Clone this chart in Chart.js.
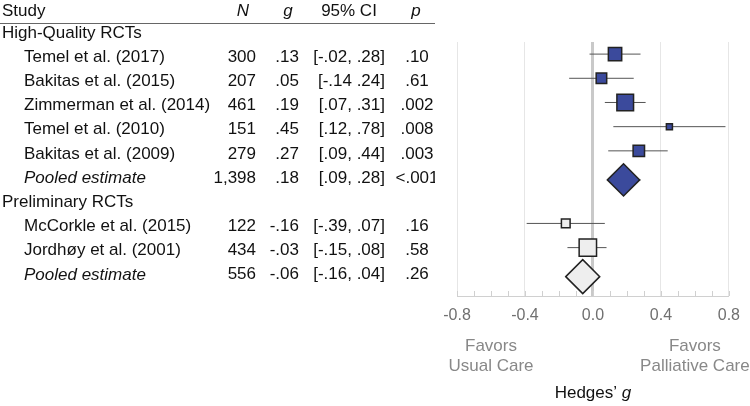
<!DOCTYPE html>
<html>
<head>
<meta charset="utf-8">
<script src="https://cdn.jsdelivr.net/npm/chart.js@4/dist/chart.umd.min.js"></script>
<style>
  body { margin: 0; background: #fff; }
  #wrap { width: 750px; height: 406px; }
</style>
</head>
<body>
<div id="wrap"><canvas id="forest"></canvas></div>
<script>
// datos del forest plot
const groups = ['High-Quality RCTs', 'Preliminary RCTs'];
const studies = ['Temel et al. (2017)', 'Bakitas et al. (2015)', 'Zimmerman et al. (2014)', 'Temel et al. (2010)',
  'Bakitas et al. (2009)', 'Pooled estimate', 'McCorkle et al. (2015)', 'Jordhøy et al. (2001)', 'Pooled estimate'];
const groupOf = [0, 0, 0, 0, 0, 0, 1, 1, 1];
const pooled = [false, false, false, false, false, true, false, false, true];
const nLabels = ['300', '207', '461', '151', '279', '1,398', '122', '434', '556'];
const gValues = [0.13, 0.05, 0.19, 0.45, 0.27, 0.18, -0.16, -0.03, -0.06];
const ciLow = [-0.02, -0.14, 0.07, 0.12, 0.09, 0.09, -0.39, -0.15, -0.16];
const ciHigh = [0.28, 0.24, 0.31, 0.78, 0.44, 0.28, 0.07, 0.08, 0.04];
const ciLabels = ['[-.02, .28]', '[-.14 .24]', '[.07, .31]', '[.12, .78]', '[.09, .44]', '[.09, .28]',
  '[-.39, .07]', '[-.15, .08]', '[-.16, .04]'];
const pLabels = ['.10', '.61', '.002', '.008', '.003', '<.001', '.16', '.58', '.26'];
const xMin = -0.8, xMax = 0.8;
const favorsLeft = ['Favors', 'Usual Care'];
const favorsRight = ['Favors', 'Palliative Care'];

const FONT = "'Liberation Sans', Arial, sans-serif";
const fills = ['#3b4a9c', '#eeeeee'];
const POOLED_SHIFT = 0.2; // el rombo queda un poco más abajo que su fila
const TEXT_DY = 3;

// filas: cabecera de grupo y luego sus estudios
const rowOf = [];
const groupRow = [];
let r = 0;
groups.forEach((g, gi) => {
  groupRow.push(r++);
  studies.forEach((s, i) => { if (groupOf[i] === gi) rowOf[i] = r++; });
});
const markY = i => rowOf[i] + (pooled[i] ? POOLED_SHIFT : 0);

const fmtG = v => (v < 0 ? '-' : '') + Math.abs(v).toFixed(2).slice(1);

const datasets = [{
  order: 0,
  data: studies.map((s, i) => ({ x: gValues[i], y: markY(i) })),
  pointStyle: c => pooled[c.dataIndex] ? 'rectRot' : 'rect',
  pointRadius: c => {
    const i = c.dataIndex;
    if (pooled[i]) {
      const xs = c.chart.scales.x;
      return (xs.getPixelForValue(ciHigh[i]) - xs.getPixelForValue(ciLow[i])) / 2;
    }
    const side = 4 / (ciHigh[i] - ciLow[i]);
    return side / (2 * Math.SQRT1_2);
  },
  backgroundColor: c => fills[groupOf[c.dataIndex]],
  borderColor: '#222',
  borderWidth: 1.5
}];
studies.forEach((s, i) => {
  datasets.push({
    order: 1,
    data: [{ x: ciLow[i], y: markY(i) }, { x: ciHigh[i], y: markY(i) }],
    showLine: true,
    borderColor: '#555',
    borderWidth: 1,
    pointRadius: 0
  });
});

const tablaPlugin = {
  id: 'tabla',
  afterDraw(chart) {
    const ctx = chart.ctx;
    const ys = chart.scales.y;
    const xs = chart.scales.x;
    const area = chart.chartArea;

    // marcas menores del eje
    ctx.save();
    ctx.strokeStyle = '#d0d0d0';
    ctx.lineWidth = 1;
    xs.ticks.forEach(t => {
      const px = Math.round(xs.getPixelForValue(t.value)) + 0.5;
      ctx.beginPath();
      ctx.moveTo(px, area.bottom);
      ctx.lineTo(px, area.bottom - 5);
      ctx.stroke();
    });
    ctx.restore();

    // tabla a la izquierda
    ctx.save();
    ctx.beginPath();
    ctx.rect(0, 0, 435, chart.height);
    ctx.clip();
    ctx.fillStyle = '#111';
    ctx.textBaseline = 'middle';
    const norm = '17px ' + FONT, ital = 'italic 17px ' + FONT;
    const headY = 11;
    ctx.font = norm; ctx.textAlign = 'left'; ctx.fillText('Study', 2, headY);
    ctx.textAlign = 'center';
    ctx.font = ital; ctx.fillText('N', 243, headY);
    ctx.fillText('g', 288, headY);
    ctx.font = norm; ctx.fillText('95% CI', 349, headY);
    ctx.font = ital; ctx.fillText('p', 416, headY);

    ctx.strokeStyle = '#666';
    ctx.lineWidth = 1;
    ctx.beginPath();
    ctx.moveTo(0, 23.5);
    ctx.lineTo(437, 23.5);
    ctx.stroke();

    groups.forEach((g, gi) => {
      ctx.font = norm; ctx.textAlign = 'left';
      ctx.fillText(g, 2, ys.getPixelForValue(groupRow[gi]) + TEXT_DY);
    });
    studies.forEach((s, i) => {
      const y = ys.getPixelForValue(rowOf[i]) + TEXT_DY;
      ctx.textAlign = 'left';
      ctx.font = pooled[i] ? ital : norm;
      ctx.fillText(s, 24, y);
      ctx.font = norm;
      ctx.textAlign = 'right';
      ctx.fillText(nLabels[i], 256, y);
      ctx.fillText(fmtG(gValues[i]), 299, y);
      ctx.fillText(ciLabels[i], 385, y);
      ctx.textAlign = 'center';
      ctx.fillText(pLabels[i], 417, y);
    });
    ctx.restore();

    // textos bajo el eje
    ctx.save();
    ctx.font = '17px ' + FONT;
    ctx.textAlign = 'center';
    ctx.textBaseline = 'middle';
    ctx.fillStyle = '#888';
    const lx = xs.getPixelForValue(-0.6), rx = xs.getPixelForValue(0.6);
    favorsLeft.forEach((t, k) => ctx.fillText(t, lx, 346 + k * 20));
    favorsRight.forEach((t, k) => ctx.fillText(t, rx, 346 + k * 20));

    ctx.fillStyle = '#111';
    ctx.textAlign = 'left';
    const a = 'Hedges’ ';
    const wa = ctx.measureText(a).width;
    ctx.font = 'italic 17px ' + FONT;
    const wb = ctx.measureText('g').width;
    const cx = xs.getPixelForValue(0);
    const x0 = cx - (wa + wb) / 2;
    ctx.font = '17px ' + FONT;
    ctx.fillText(a, x0, 393);
    ctx.font = 'italic 17px ' + FONT;
    ctx.fillText('g', x0 + wa, 393);
    ctx.restore();
  }
};

new Chart(document.getElementById('forest'), {
  type: 'scatter',
  data: { datasets },
  options: {
    responsive: true,
    maintainAspectRatio: false,
    animation: false,
    events: [],
    layout: { padding: { left: 457, right: 21, top: 42, bottom: 0 } },
    plugins: { legend: { display: false }, tooltip: { enabled: false } },
    scales: {
      x: {
        type: 'linear',
        min: xMin,
        max: xMax,
        afterFit: s => { s.height = 110; },
        ticks: {
          stepSize: 0.1,
          autoSkip: false,
          maxRotation: 0,
          padding: 10,
          color: '#707070',
          font: { family: FONT, size: 16 },
          callback: v => {
            const k = Math.round(v * 10);
            return k % 4 === 0 ? (k / 10).toFixed(1) : '';
          }
        },
        grid: {
          drawTicks: false,
          color: c => {
            const k = Math.round(c.tick.value * 10);
            if (k === 0) return '#c9c9c9';
            return k % 4 === 0 ? '#e6e6e6' : 'rgba(0,0,0,0)';
          },
          lineWidth: c => Math.round(c.tick.value * 10) === 0 ? 3 : 1
        },
        border: { color: '#d0d0d0' }
      },
      y: {
        type: 'linear',
        min: 0.5,
        max: 11,
        reverse: true,
        display: false
      }
    }
  },
  plugins: [tablaPlugin]
});
</script>
</body>
</html>
